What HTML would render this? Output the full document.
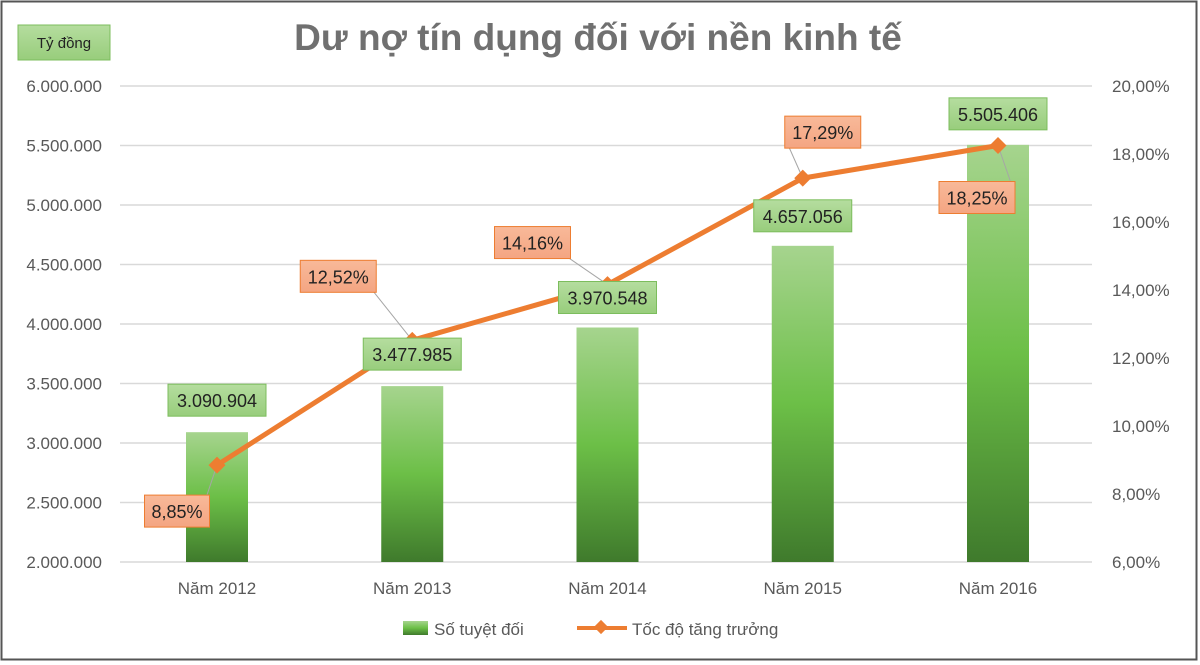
<!DOCTYPE html>
<html><head><meta charset="utf-8">
<style>
body{margin:0;background:#fff;font-family:"Liberation Sans","DejaVu Sans",sans-serif;}
#wrap{position:relative;width:1200px;height:665px;overflow:hidden;}
</style></head>
<body>
<div id="wrap">
<svg id="chart" width="1200" height="665">
<defs>
<linearGradient id="barGrad" x1="0" y1="0" x2="0" y2="1">
<stop offset="0" stop-color="#a6d48e"/><stop offset="0.5" stop-color="#6cbf47"/><stop offset="1" stop-color="#3f7a2c"/>
</linearGradient>
<linearGradient id="boxGreen" x1="0" y1="0" x2="0" y2="1"><stop offset="0" stop-color="#b5dd9f"/><stop offset="1" stop-color="#98cd7c"/></linearGradient>
<linearGradient id="boxOrange" x1="0" y1="0" x2="0" y2="1"><stop offset="0" stop-color="#f8b999"/><stop offset="1" stop-color="#f4a582"/></linearGradient>
</defs>
<rect x="1.5" y="1.5" width="1195" height="658" fill="#fff" stroke="#555" stroke-width="2"/>
<text x="598" y="50" text-anchor="middle" font-size="37" font-weight="bold" fill="#707070">Dư nợ tín dụng đối với nền kinh tế</text>
<rect x="18" y="25" width="92" height="35" fill="url(#boxGreen)" stroke="#7cbd5d"/>
<text x="64" y="48" text-anchor="middle" font-size="15" fill="#222">Tỷ đồng</text>
<g id="grid"></g><g id="bars"></g><g id="line"></g><g id="labels"></g>
<g>
<rect x="403" y="621" width="25" height="14" fill="url(#barGrad)"/>
<text x="434" y="635" font-size="17" fill="#595959">Số tuyệt đối</text>
<line x1="577" y1="628" x2="627" y2="628" stroke="#ed7d31" stroke-width="4"/>
<rect x="596" y="622" width="10" height="10" fill="#ed7d31" transform="rotate(45 601 627)"/>
<text x="632" y="635" font-size="17" fill="#595959">Tốc độ tăng trưởng</text>
</g>
</svg>
</div>
<script>
const categories=["Năm 2012","Năm 2013","Năm 2014","Năm 2015","Năm 2016"];
const absValues=[3090904,3477985,3970548,4657056,5505406];
const growthValues=[8.85,12.52,14.16,17.29,18.25];
const absLabels=["3.090.904","3.477.985","3.970.548","4.657.056","5.505.406"];
const growthLabels=["8,85%","12,52%","14,16%","17,29%","18,25%"];
const leftTicks=[2000000,2500000,3000000,3500000,4000000,4500000,5000000,5500000,6000000];
const leftTickLabels=["2.000.000","2.500.000","3.000.000","3.500.000","4.000.000","4.500.000","5.000.000","5.500.000","6.000.000"];
const rightTicks=[6,8,10,12,14,16,18,20];
const rightTickLabels=["6,00%","8,00%","10,00%","12,00%","14,00%","16,00%","18,00%","20,00%"];

const plotTop=86,plotBot=562;
const yL=v=>plotBot-(v-2000000)/4000000*(plotBot-plotTop);
const yR=v=>plotBot-(v-6)/14*(plotBot-plotTop);
const xC=i=>217+i*195.25;
const NS="http://www.w3.org/2000/svg";
function mk(t,a,p){const e=document.createElementNS(NS,t);for(const k in a)e.setAttribute(k,a[k]);p.appendChild(e);return e;}
const G=document.getElementById('grid'),B=document.getElementById('bars'),L=document.getElementById('line'),T=document.getElementById('labels');
leftTicks.forEach((v,i)=>{
  const l=mk('line',{x1:120,x2:1092,y1:yL(v),y2:yL(v),stroke:'#d9d9d9','stroke-width':1.5},G);
  
  
  const t=mk('text',{x:102,y:yL(v)+6,'text-anchor':'end','font-size':17,fill:'#595959'},G);
  t.textContent=leftTickLabels[i];
  
  
});
rightTicks.forEach((v,i)=>{
  const t=mk('text',{x:1112,y:yR(v)+6,'font-size':17,fill:'#595959'},G);
  t.textContent=rightTickLabels[i];
  
  
});
categories.forEach((c,i)=>{
  const t=mk('text',{x:xC(i),y:594,'text-anchor':'middle','font-size':17,fill:'#595959'},G);
  t.textContent=c;
  
  
  const y=yL(absValues[i]);
  const r=mk('rect',{x:xC(i)-31,y:y,width:62,height:plotBot-y,fill:'url(#barGrad)'},B);
  
  
});
const absOff=[[0,-32],[0,-32],[0,-30],[0,-30],[0,-31]];
const pctOff=[[-40,46],[-74,-64],[-75,-42],[20,-46],[-21,52]];
absValues.forEach((v,i)=>{
  const cx=xC(i)+absOff[i][0], cy=yL(v)+absOff[i][1], w=absLabels[i].length*10+8;
  const r=mk('rect',{x:cx-w/2,y:cy-16,width:w,height:32,fill:'url(#boxGreen)',stroke:'#7cbd5d'},T);
  
  
  const t=mk('text',{x:cx,y:cy+7,'text-anchor':'middle','font-size':18,fill:'#222'},T);
  t.textContent=absLabels[i];
  
  
});
let d='';
growthValues.forEach((v,i)=>{d+=(i?'L':'M')+xC(i)+' '+yR(v);});
const p=mk('path',{d:d,fill:'none',stroke:'#ed7d31','stroke-width':5,'stroke-linejoin':'round'},L);


growthValues.forEach((v,i)=>{
  const x=xC(i),y=yR(v);
  const cx=x+pctOff[i][0],cy=y+pctOff[i][1],w=growthLabels[i].length*11+10;
  const ln=mk('line',{x1:x,y1:y,x2:cx+(cx<x?w/2:-w/2)*0.9,y2:cy+(cy<y?14:-14),stroke:'#a6a6a6','stroke-width':1},L);
  
  
  const m=mk('rect',{x:x-6,y:y-6,width:12,height:12,fill:'#ed7d31',transform:`rotate(45 ${x} ${y})`},L);
  
  
  const r=mk('rect',{x:cx-w/2,y:cy-16,width:w,height:32,fill:'url(#boxOrange)',stroke:'#ed7d31'},T);
  
  
  const t=mk('text',{x:cx,y:cy+7,'text-anchor':'middle','font-size':18,fill:'#222'},T);
  t.textContent=growthLabels[i];
  
  
});
</script>
</body></html>
